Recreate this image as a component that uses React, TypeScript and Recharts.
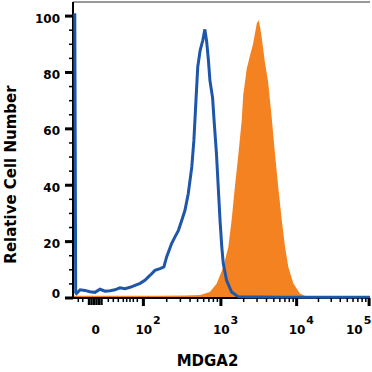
import { ComposedChart, Area, Line, XAxis, YAxis, ReferenceLine } from 'recharts';

// x positions are display channels (0-1000) of the biexponential axis
const isotypeCh = [
  6, 9, 12, 24, 40, 57, 74, 91, 108, 125, 141, 158, 175, 192, 209, 226, 242, 259, 276, 293,
  306, 315, 332, 343, 355, 366, 377, 388, 400, 407, 414, 420, 428, 437, 444, 450, 456, 461,
  470, 475, 483, 489, 495, 501, 506, 517, 534, 557, 700, 850, 1000,
];
const isotypeCount = [
  101, 2.0, 1.6, 2.9, 2.7, 2.2, 2.0, 3.1, 2.4, 2.6, 2.9, 3.6, 3.3, 3.8, 4.5, 5.2, 6.3, 8.0, 9.8, 10.4,
  11, 14.5, 19.3, 21.6, 24, 27.5, 31.1, 37, 46.5, 55.9, 70.1, 81.9, 87.8, 91.4, 95.3, 91, 84.3, 77.2,
  71, 63, 51.2, 39.4, 27.6, 18.1, 12.2, 6.3, 2.1, 0.4, 0.3, 0.3, 0.3,
];

const mdga2Ch = [
  0, 293, 377, 428, 461, 484, 506, 523, 534, 545, 557, 568, 573, 585, 596, 606, 619, 625, 630,
  636, 646, 657, 669, 680, 691, 703, 714, 725, 742, 764, 787, 805, 1000,
];
const mdga2Count = [
  0.8, 0.8, 0.9, 1.1, 2.1, 5.1, 11, 18.1, 27.6, 39.4, 51.2, 63, 71.9, 81.3, 86, 90, 97.5, 98.5, 96,
  92, 83.7, 76.6, 64, 51.2, 39.4, 27.6, 18.1, 11, 5.1, 1.6, 0.4, 0.1, 0.1,
];

const xMajorTicks = [76, 237, 498, 753, 997];
const xTickBase = ['0', '10', '10', '10', '10'];
const xTickExp = ['', '2', '3', '4', '5'];
const xLowMinorTicks = [17.8, 32.7, 118.9, 135.7, 152.5, 169.4, 180.8, 191.9, 203.1, 216.5];
const xDenseTicks = [53.9, 62.3, 70.7, 79.1, 87.5, 96];

const yMajorTicks = [0, 20, 40, 60, 80, 100];

const isotype = isotypeCh.map((ch, i) => ({ ch, v: isotypeCount[i] }));
const mdga2 = mdga2Ch.map((ch, i) => ({ ch, v: mdga2Count[i] }));

// minor ticks for 2..9 x 10^n between the labelled decades
const decadeMinor: number[] = [];
for (let d = 1; d < xMajorTicks.length - 1; d++) {
  const a = xMajorTicks[d];
  const b = xMajorTicks[d + 1];
  for (let k = 2; k <= 9; k++) decadeMinor.push(a + Math.log10(k) * (b - a));
}
const xAllTicks = [...xLowMinorTicks, ...xDenseTicks, ...xMajorTicks, ...decadeMinor].sort((a, b) => a - b);
const yAllTicks = Array.from({ length: 21 }, (_, i) => i * 5);

const font = "'DejaVu Sans', sans-serif";

const XTick = (props: any) => {
  const { x, y, payload } = props;
  const v = payload.value;
  const mi = xMajorTicks.findIndex((t) => Math.abs(t - v) < 0.01);
  const dense = xDenseTicks.some((t) => Math.abs(t - v) < 0.01);
  if (mi >= 0) {
    const base = xTickBase[mi];
    const exp = xTickExp[mi];
    const cx = Math.min(x, 354);
    return (
      <g>
        {mi > 0 && <rect x={x - 1.5} y={y} width={3} height={8} fill="#000" />}
        <text x={exp ? cx - 8 : cx} y={y + 35.5} textAnchor={exp ? 'start' : 'middle'} fontFamily={font} fontWeight="bold" fontSize={12} fill="#000">
          {base}
          {exp && (
            <tspan dy={-9.5} dx={1} fontSize={11}>
              {exp}
            </tspan>
          )}
        </text>
      </g>
    );
  }
  return dense ? (
    <rect x={x - 1.2} y={y} width={2.4} height={7} fill="#000" />
  ) : (
    <rect x={x - 0.75} y={y} width={1.5} height={4} fill="#000" />
  );
};

const YTick = (props: any) => {
  const { x, y, payload } = props;
  const v = payload.value;
  if (yMajorTicks.includes(v)) {
    return (
      <g>
        <rect x={x - 8} y={y - 1.5} width={8} height={3} fill="#000" />
        <text x={x - 13} y={v === 0 ? y : y + 6.5} textAnchor="end" fontFamily={font} fontWeight="bold" fontSize={12} fill="#000">
          {v}
        </text>
      </g>
    );
  }
  return <rect x={x - 4} y={y - 0.75} width={4} height={1.5} fill="#000" />;
};

export default function App() {
  return (
    <div style={{ position: 'absolute', left: 0, top: 0, width: 372, height: 372, background: '#fff' }}>
      <ComposedChart width={372} height={372} margin={{ top: 2, right: 2, bottom: 0, left: 0 }}>
        <XAxis
          type="number"
          dataKey="ch"
          domain={[0, 1000]}
          ticks={xAllTicks}
          interval={0}
          height={74}
          tickSize={0}
          tickMargin={0}
          tickLine={false}
          tick={<XTick />}
          axisLine={{ stroke: '#000', strokeWidth: 2 }}
          label={{
            content: () => (
              <text x={207.5} y={366} textAnchor="middle" fontFamily={font} fontWeight="bold" fontSize={15} fill="#000">
                MDGA2
              </text>
            ),
          }}
        />
        <YAxis
          type="number"
          domain={[0, 105]}
          ticks={yAllTicks}
          interval={0}
          width={73}
          tickSize={0}
          tickMargin={0}
          tickLine={false}
          tick={<YTick />}
          axisLine={{ stroke: '#000', strokeWidth: 2 }}
          label={{
            content: () => (
              <text x={16} y={174.5} transform="rotate(-90, 16, 174.5)" textAnchor="middle" fontFamily={font} fontWeight="bold" fontSize={15} fill="#000">
                Relative Cell Number
              </text>
            ),
          }}
        />
        <ReferenceLine y={105} stroke="#333" strokeWidth={1} />
        <Area
          data={mdga2}
          dataKey="v"
          type="linear"
          stroke="none"
          fill="#F58220"
          fillOpacity={1}
          isAnimationActive={false}
        />
        <Line
          data={isotype}
          dataKey="v"
          type="linear"
          stroke="#1E56AA"
          strokeWidth={3}
          dot={false}
          zIndex={600}
          isAnimationActive={false}
        />
      </ComposedChart>
    </div>
  );
}
